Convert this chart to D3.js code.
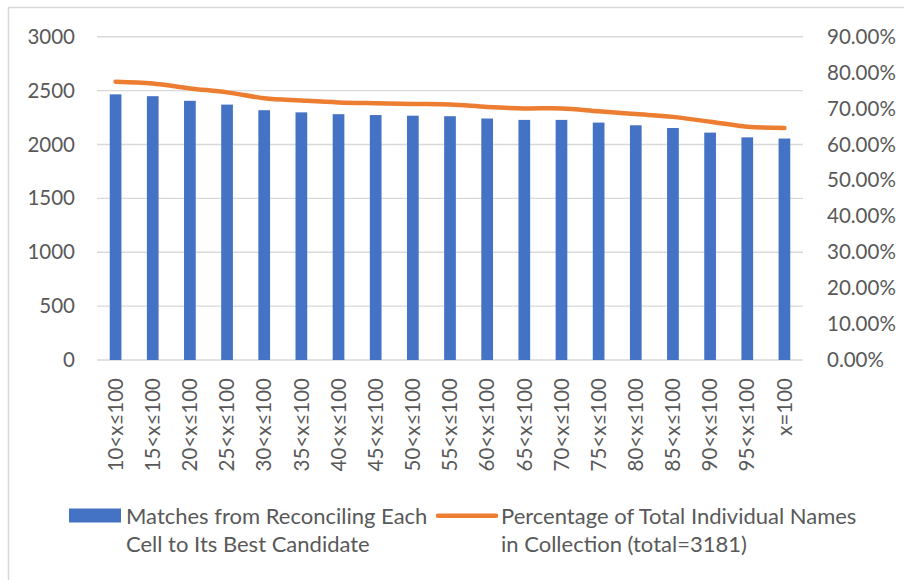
<!DOCTYPE html>
<html>
<head>
<meta charset="utf-8">
<script src="https://cdn.jsdelivr.net/npm/d3@7/dist/d3.min.js"></script>
<style>
  html, body { margin: 0; padding: 0; background: #fff; }
  svg { display: block; }
  text { font-family: Lato, "Open Sans", sans-serif; fill: #595959; }
</style>
</head>
<body>
<svg id="chart" width="904" height="580"></svg>
<script>
// Threshold bins for the matching score
const categories = [
  "10<x\u2264100", "15<x\u2264100", "20<x\u2264100", "25<x\u2264100", "30<x\u2264100",
  "35<x\u2264100", "40<x\u2264100", "45<x\u2264100", "50<x\u2264100", "55<x\u2264100",
  "60<x\u2264100", "65<x\u2264100", "70<x\u2264100", "75<x\u2264100", "80<x\u2264100",
  "85<x\u2264100", "90<x\u2264100", "95<x\u2264100", "x=100"
];

// Matches from reconciling each cell to its best candidate (left axis)
const matches = [
  2465, 2448, 2405, 2370, 2318, 2298, 2281, 2273, 2267, 2262,
  2241, 2228, 2228, 2203, 2178, 2153, 2110, 2066, 2055
];

// Share of the 3181 individual names in the collection (right axis, %)
const percentages = [
  77.49, 76.96, 75.61, 74.50, 72.87, 72.24, 71.71, 71.46, 71.27, 71.11,
  70.45, 70.04, 70.04, 69.25, 68.47, 67.68, 66.33, 64.95, 64.60
];

const leftTicks = [0, 500, 1000, 1500, 2000, 2500, 3000];
const rightTicks = [0, 10, 20, 30, 40, 50, 60, 70, 80, 90];

const seriesNames = [
  ["Matches from Reconciling Each", "Cell to Its Best Candidate"],
  ["Percentage of Total Individual Names", "in Collection (total=3181)"]
];

const colors = { bar: "#4472C4", line: "#ED7D31", grid: "#D9D9D9", text: "#595959" };

const svg = d3.select("#chart");
const plot = { left: 97, right: 803, top: 36.7, bottom: 360 };
const axisFont = 20.5;
const legendFont = 22;

// Chart area frame
svg.append("rect")
  .attr("x", 8.5).attr("y", 7.5)
  .attr("width", 920).attr("height", 600)
  .attr("fill", "#fff")
  .attr("stroke", colors.grid).attr("stroke-width", 1.5);

const x = d3.scaleBand()
  .domain(categories)
  .range([plot.left, plot.right])
  .paddingInner(0.685)
  .paddingOuter(0.3425);

const yLeft = d3.scaleLinear().domain([0, 3000]).range([plot.bottom, plot.top]);
const yRight = d3.scaleLinear().domain([0, 90]).range([plot.bottom, plot.top]);

// Horizontal gridlines
svg.append("g")
  .selectAll("line")
  .data(leftTicks)
  .join("line")
  .attr("x1", plot.left).attr("x2", plot.right)
  .attr("y1", d => yLeft(d)).attr("y2", d => yLeft(d))
  .attr("stroke", colors.grid).attr("stroke-width", 1.4);

// Left axis
const leftAxis = svg.append("g")
  .attr("transform", `translate(${plot.left - 22},0)`)
  .call(d3.axisLeft(yLeft).tickValues(leftTicks).tickSize(0).tickPadding(0).tickFormat(d3.format("d")));
leftAxis.select(".domain").remove();
leftAxis.selectAll("text").style("font-size", axisFont + "px").attr("fill", colors.text);

// Right axis
const rightAxis = svg.append("g")
  .attr("transform", `translate(${plot.right + 24},0)`)
  .call(d3.axisRight(yRight).tickValues(rightTicks).tickSize(0).tickPadding(0)
    .tickFormat(d => d.toFixed(2) + "%"));
rightAxis.select(".domain").remove();
rightAxis.selectAll("text").style("font-size", axisFont + "px").attr("fill", colors.text);

// Bars
svg.append("g")
  .selectAll("rect")
  .data(matches)
  .join("rect")
  .attr("x", (d, i) => x(categories[i]))
  .attr("width", x.bandwidth())
  .attr("y", d => yLeft(d))
  .attr("height", d => yLeft(0) - yLeft(d))
  .attr("fill", colors.bar);

// Category labels, rotated
svg.append("g")
  .selectAll("text")
  .data(categories)
  .join("text")
  .attr("transform", d => `translate(${x(d) + x.bandwidth() / 2},378) rotate(-90)`)
  .attr("text-anchor", "end")
  .attr("dy", "0.35em")
  .style("font-size", axisFont + "px")
  .text(d => d);

// Smoothed percentage line
const line = d3.line()
  .x((d, i) => x(categories[i]) + x.bandwidth() / 2)
  .y(d => yRight(d))
  .curve(d3.curveCardinal.tension(0));

svg.append("path")
  .datum(percentages)
  .attr("d", line)
  .attr("fill", "none")
  .attr("stroke", colors.line)
  .attr("stroke-width", 4.5)
  .attr("stroke-linecap", "round")
  .attr("stroke-linejoin", "round");

// Legend
const legend = svg.append("g");
legend.append("rect")
  .attr("x", 69).attr("y", 508.5).attr("width", 52).attr("height", 14)
  .attr("fill", colors.bar);
legend.append("line")
  .attr("x1", 438).attr("x2", 496).attr("y1", 515.7).attr("y2", 515.7)
  .attr("stroke", colors.line).attr("stroke-width", 4.5).attr("stroke-linecap", "round");

const legendX = [126, 501];
seriesNames.forEach((lines, k) => {
  const t = legend.append("text")
    .attr("x", legendX[k]).attr("y", 523.5)
    .style("font-size", legendFont + "px");
  lines.forEach((s, j) => {
    t.append("tspan").attr("x", legendX[k]).attr("dy", j === 0 ? 0 : 28).text(s);
  });
});
</script>
</body>
</html>
